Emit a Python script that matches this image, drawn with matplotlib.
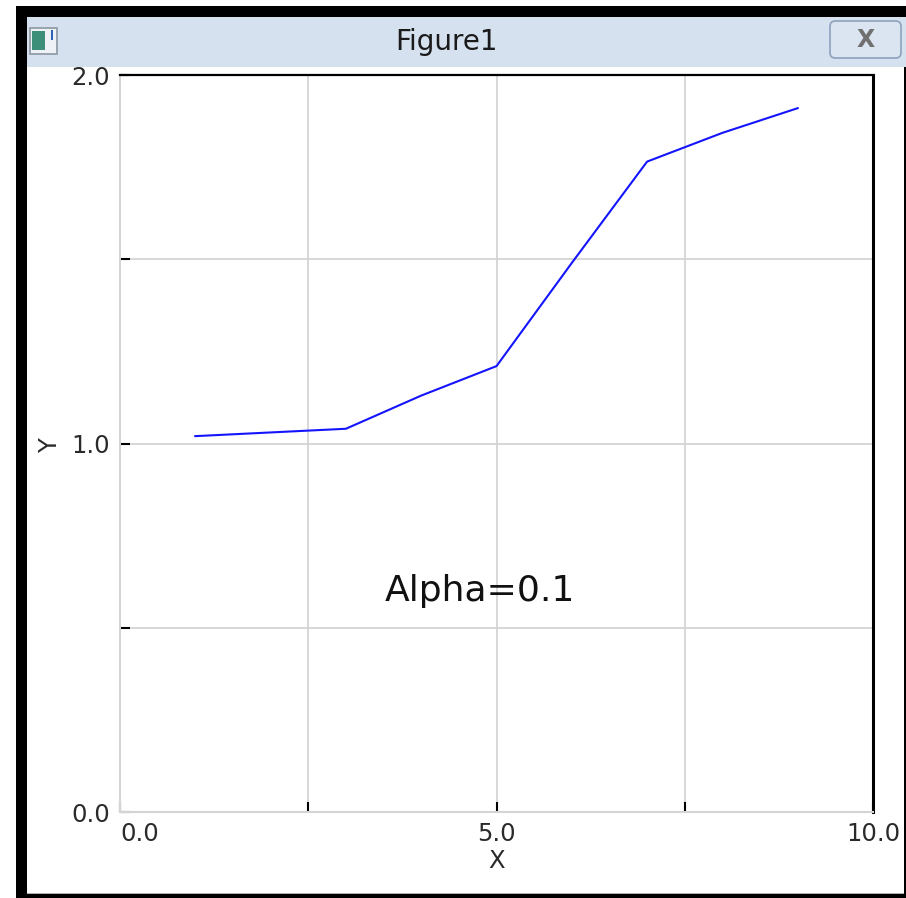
# Recreates a small window screenshot with an Alpha=0.1 line plot.

import matplotlib.pyplot as plt
from matplotlib import font_manager
from matplotlib.patches import Rectangle, FancyBboxPatch

W, H = 906, 898   # output size in pixels

x_values = [1, 2, 3, 4, 5, 6, 7, 8, 9]
y_values = [1.02, 1.03, 1.04, 1.13, 1.21, 1.49, 1.765, 1.843, 1.91]
x_ticks = [0.0, 2.5, 5.0, 7.5, 10.0]
x_tick_labels = ['0.0', '', '5.0', '', '10.0']
y_ticks = [0.0, 0.5, 1.0, 1.5, 2.0]
y_tick_labels = ['0.0', '', '1.0', '', '2.0']
window_title = 'Figure1'
note = 'Alpha=0.1'


def pick_font(names, default):
    # first installed family out of the list
    for name in names:
        try:
            font_manager.findfont(name, fallback_to_default=False)
            return name
        except ValueError:
            pass
    return default


TICK_FONT = pick_font(['Liberation Sans Narrow', 'DejaVu Sans Condensed'], 'DejaVu Sans')
TICK_SIZE = 19 if TICK_FONT != 'DejaVu Sans' else 17.5


def box(x0, y0, x1, y1):
    # pixel box (top-left origin) -> figure fractions (left, bottom, width, height)
    return x0 / W, 1 - y1 / H, (x1 - x0) / W, (y1 - y0) / H


def add_rect(fig, x0, y0, x1, y1, color, z=-5):
    l, b, w, h = box(x0, y0, x1, y1)
    fig.patches.append(Rectangle((l, b), w, h, transform=fig.transFigure,
                                 facecolor=color, edgecolor='none', zorder=z))


if __name__ == '__main__':
    fig = plt.figure(figsize=(W / 100, H / 100), dpi=100, facecolor='white')

    # window frame
    add_rect(fig, 16, 6, 906, 898, 'black', z=-10)
    add_rect(fig, 27, 67, 904, 894, '#b0b0b0', z=-9)
    add_rect(fig, 27, 67, 904, 893, 'white', z=-8)
    add_rect(fig, 27, 17, 906, 67, '#d5e1ef', z=-8)

    # window icon
    add_rect(fig, 29, 27, 58, 55, '#9aa4ae', z=-7)
    add_rect(fig, 31, 29, 56, 53, '#eef2f6', z=-6)
    add_rect(fig, 32, 31, 45, 50, '#3e8f7a', z=-5)
    add_rect(fig, 51, 30, 53, 40, '#2a62b8', z=-5)

    # close button
    l, b, w, h = box(830, 21, 901, 58)
    fig.patches.append(FancyBboxPatch((l, b), w, h, boxstyle='round,pad=0,rounding_size=0.006',
                                      transform=fig.transFigure, facecolor='#dbe5f1',
                                      edgecolor='#8ea2bd', linewidth=1.2, zorder=-4))
    fig.text(865.5 / W, 1 - 40 / H, 'X', ha='center', va='center', fontsize=17,
             fontweight='bold', color='#707070', family='DejaVu Sans')

    fig.text(447 / W, 1 - 42 / H, window_title, ha='center', va='center',
             fontsize=20, color='#1a1a1a', family='DejaVu Sans')

    # plot area
    ax = fig.add_axes(box(120, 75, 873, 812))
    ax.plot(x_values, y_values, color='#1414ff', linewidth=1.5)
    ax.set_xlim(0, 10)
    ax.set_ylim(0, 2)
    ax.set_xticks(x_ticks)
    ax.set_xticklabels(x_tick_labels, family=TICK_FONT, fontsize=TICK_SIZE, color='#2a2a2a')
    ax.get_xticklabels()[0].set_horizontalalignment('left')
    ax.set_yticks(y_ticks)
    ax.set_yticklabels(y_tick_labels, family=TICK_FONT, fontsize=TICK_SIZE, color='#2a2a2a')
    ax.tick_params(direction='in', length=7, width=1.5, color='black', pad=7)
    ax.grid(True, color='#d4d4d4', linewidth=1.3)
    for side in ['left', 'bottom']:
        ax.spines[side].set_color('#d4d4d4')
        ax.spines[side].set_linewidth(1.5)
    ax.spines['top'].set_color('black')
    ax.spines['top'].set_linewidth(1.6)
    ax.spines['right'].set_color('black')
    ax.spines['right'].set_linewidth(2.2)

    ax.set_xlabel('X', family=TICK_FONT, fontsize=TICK_SIZE, color='#2a2a2a', va='center')
    ax.xaxis.set_label_coords(0.50, -0.066)
    ax.set_ylabel('Y', family=TICK_FONT, fontsize=TICK_SIZE, color='#2a2a2a', va='center')
    ax.yaxis.set_label_coords(-0.093, 0.498)

    ax.text(4.78, 0.6, note, ha='center', va='center', fontsize=26,
            family='DejaVu Sans', color='#111111')

    plt.savefig('out.png', dpi=100)
